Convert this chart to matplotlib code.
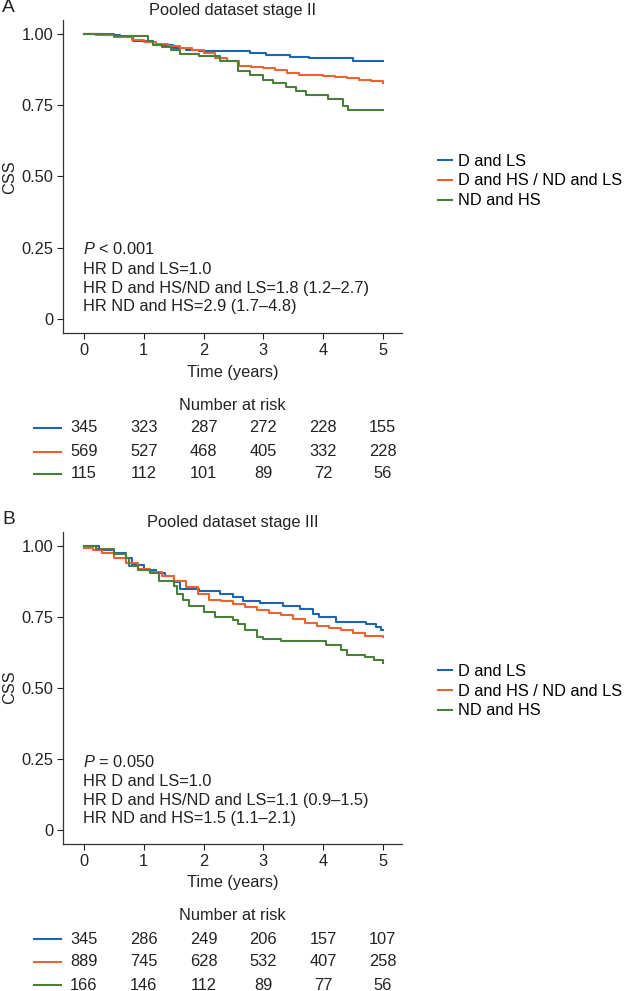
import matplotlib
matplotlib.use("Agg")
import matplotlib.pyplot as plt
import matplotlib.transforms as mtransforms

# ===========================
# DATA
# ===========================
groups = ["D and LS", "D and HS / ND and LS", "ND and HS"]
colors = ["#1f65ad", "#ee6131", "#4b7d3b"]
risk_times = [0, 1, 2, 3, 4, 5]
y_ticks = [0, 0.25, 0.50, 0.75, 1.00]
y_tick_labels = ["0", "0.25", "0.50", "0.75", "1.00"]

# Panel A - stage II
a_blue_t = [0, 0.3, 0.6, 0.82, 1.15, 1.49, 1.71, 1.93, 2.77, 3.05, 3.44, 3.77, 4.5, 5.0]
a_blue_s = [1.0, 0.996, 0.99, 0.975, 0.963, 0.951, 0.945, 0.94, 0.934, 0.928, 0.92, 0.916, 0.906, 0.905]
a_orange_t = [0, 0.2, 0.5, 0.8, 1.0, 1.2, 1.4, 1.6, 1.8, 2.0, 2.2, 2.4, 2.6, 2.8, 3.0, 3.2,
              3.4, 3.6, 3.8, 4.0, 4.2, 4.4, 4.6, 4.8, 5.0]
a_orange_s = [1.0, 0.997, 0.99, 0.98, 0.972, 0.965, 0.958, 0.95, 0.944, 0.935, 0.915, 0.905,
              0.89, 0.885, 0.88, 0.875, 0.865, 0.858, 0.855, 0.853, 0.851, 0.845, 0.84, 0.835, 0.828]
a_green_t = [0, 0.51, 1.07, 1.15, 1.3, 1.45, 1.6, 1.93, 2.27, 2.58, 2.77, 3.0, 3.16, 3.38,
             3.55, 3.72, 4.08, 4.33, 4.41, 5.0]
a_green_s = [1.0, 0.994, 0.975, 0.962, 0.955, 0.945, 0.93, 0.922, 0.905, 0.87, 0.858, 0.84,
             0.829, 0.815, 0.8, 0.788, 0.771, 0.748, 0.733, 0.733]
a_risk = [[345, 323, 287, 272, 228, 155],
          [569, 527, 468, 405, 332, 228],
          [115, 112, 101, 89, 72, 56]]
a_notes = ["$P$ < 0.001", "HR D and LS=1.0",
           "HR D and HS/ND and LS=1.8 (1.2\u20132.7)", "HR ND and HS=2.9 (1.7\u20134.8)"]

# Panel B - stage III
b_blue_t = [0, 0.25, 0.5, 0.7, 0.8, 1.0, 1.2, 1.35, 1.5, 1.6, 1.93, 2.27, 2.49, 2.66, 2.94,
            3.33, 3.61, 3.83, 3.94, 4.22, 4.72, 4.89, 4.97, 5.0]
b_blue_s = [1.0, 0.985, 0.975, 0.96, 0.935, 0.915, 0.905, 0.895, 0.875, 0.849, 0.843, 0.831,
            0.82, 0.808, 0.8, 0.79, 0.779, 0.762, 0.75, 0.733, 0.727, 0.715, 0.703, 0.703]
b_orange_t = [0, 0.15, 0.3, 0.5, 0.7, 0.9, 1.1, 1.3, 1.5, 1.7, 1.9, 2.1, 2.3, 2.5, 2.7, 2.9,
              3.1, 3.3, 3.5, 3.7, 3.9, 4.1, 4.3, 4.5, 4.7, 5.0]
b_orange_s = [0.995, 0.985, 0.975, 0.96, 0.942, 0.918, 0.908, 0.895, 0.878, 0.856, 0.83, 0.812,
              0.805, 0.795, 0.785, 0.775, 0.765, 0.756, 0.742, 0.73, 0.72, 0.71, 0.703, 0.693,
              0.685, 0.68]
b_green_t = [0, 0.2, 0.5, 0.7, 0.75, 0.9, 1.1, 1.25, 1.5, 1.55, 1.65, 1.75, 2.0, 2.2, 2.5,
             2.58, 2.7, 2.9, 3.0, 3.3, 4.0, 4.05, 4.3, 4.4, 4.7, 4.85, 5.0]
b_green_s = [1.0, 0.99, 0.974, 0.96, 0.93, 0.915, 0.907, 0.878, 0.86, 0.83, 0.81, 0.79, 0.767,
             0.75, 0.738, 0.727, 0.703, 0.68, 0.674, 0.666, 0.666, 0.651, 0.634, 0.616, 0.608,
             0.6, 0.587]
b_risk = [[345, 286, 249, 206, 157, 107],
          [889, 745, 628, 532, 407, 258],
          [166, 146, 112, 89, 77, 56]]
b_notes = ["$P$ = 0.050", "HR D and LS=1.0",
           "HR D and HS/ND and LS=1.1 (0.9\u20131.5)", "HR ND and HS=1.5 (1.1\u20132.1)"]

# ===========================
# STYLE
# ===========================
W, H = 624, 991
FS = 11.8
plt.rcParams["font.family"] = ["Liberation Sans", "DejaVu Sans"]
plt.rcParams["mathtext.fontset"] = "custom"
plt.rcParams["mathtext.rm"] = "Liberation Sans"
plt.rcParams["mathtext.it"] = "Liberation Sans:italic"
TXT = "#222222"

fig = plt.figure(figsize=(W / 100, H / 100), dpi=100)


def fy(py):
    # pixel row (from top) -> figure fraction
    return 1 - py / H


def draw_panel(letter, title, curves, risk, notes, top, bottom, title_y, css_y,
               legend_y, time_y, nar_y, row_ys, note_ys):
    ax = fig.add_axes([63 / W, fy(bottom), 339 / W, (bottom - top) / H])
    for (t, s), c, g in zip(curves, colors, groups):
        ax.step(t, s, where="post", color=c, lw=1.5, label=g)
    ax.set_xlim(-0.35, 5.32)
    ax.set_ylim(-0.05, 1.05)
    ax.set_xticks(risk_times)
    ax.set_yticks(y_ticks)
    ax.set_yticklabels(y_tick_labels)
    ax.tick_params(labelsize=FS, colors=TXT, length=4, width=0.8, pad=3)
    for side in ["top", "right"]:
        ax.spines[side].set_visible(False)
    for side in ["left", "bottom"]:
        ax.spines[side].set_color("#333333")
        ax.spines[side].set_linewidth(0.9)

    cx = (63 + 402) / 2 / W
    fig.text(cx, fy(title_y), title, ha="center", va="center", fontsize=FS, color=TXT)
    fig.text(2 / W, fy(title_y - 3), letter, ha="left", va="center", fontsize=FS + 2, color=TXT)
    fig.text(10 / W, fy(css_y), "CSS", rotation=90, ha="center", va="center", fontsize=FS, color=TXT)
    fig.text(cx, fy(time_y), "Time (years)", ha="center", va="center", fontsize=FS, color=TXT)

    blend = mtransforms.blended_transform_factory(ax.transData, fig.transFigure)
    for ny, note in zip(note_ys, notes):
        ax.text(-0.01, fy(ny), note, transform=blend, ha="left", va="center", fontsize=FS, color=TXT)

    # legend
    ax.legend(loc="center left", bbox_to_anchor=(438 / W, fy(legend_y)),
              bbox_transform=fig.transFigure, frameon=False, fontsize=FS,
              handlelength=0.85, handletextpad=0.4, labelspacing=0.3,
              borderpad=0, borderaxespad=0)

    # number at risk table
    fig.text(cx, fy(nar_y), "Number at risk", ha="center", va="center", fontsize=FS, color=TXT)
    for row, ry, c in zip(risk, row_ys, colors):
        ax.plot([-0.84, -0.38], [fy(ry), fy(ry)], transform=blend, color=c, lw=1.5, clip_on=False)
        for t, n in zip(risk_times, row):
            ax.text(t, fy(ry), str(n), transform=blend, ha="center", va="center",
                    fontsize=FS, color=TXT)
    return ax


draw_panel("A", "Pooled dataset stage II",
           [(a_blue_t, a_blue_s), (a_orange_t, a_orange_s), (a_green_t, a_green_s)],
           a_risk, a_notes, top=20, bottom=333, title_y=11, css_y=177,
           legend_y=181, time_y=372, nar_y=405, row_ys=[428, 452, 474],
           note_ys=[249, 269, 288, 307])

draw_panel("B", "Pooled dataset stage III",
           [(b_blue_t, b_blue_s), (b_orange_t, b_orange_s), (b_green_t, b_green_s)],
           b_risk, b_notes, top=532, bottom=844, title_y=522, css_y=687,
           legend_y=691, time_y=883, nar_y=916, row_ys=[939, 962, 985],
           note_ys=[762, 781, 800, 819])

fig.savefig("out.png", dpi=100)
